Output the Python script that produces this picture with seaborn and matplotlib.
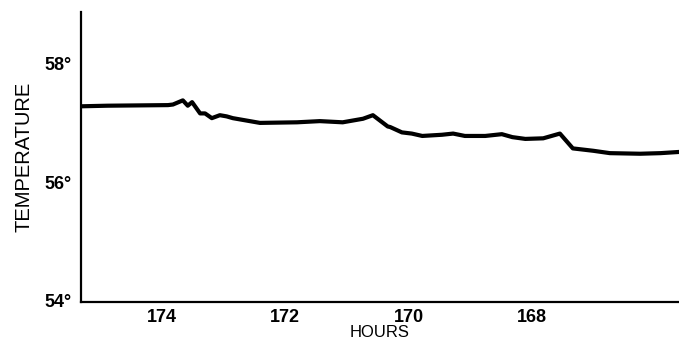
import matplotlib
matplotlib.use("Agg")
import matplotlib.pyplot as plt
import seaborn as sns
import pandas as pd

hours = [175.31, 174.88, 173.90, 173.82, 173.66, 173.58, 173.51, 173.38, 173.30,
         173.19, 173.06, 172.95, 172.85, 172.74, 172.41, 171.81, 171.44, 171.07,
         170.74, 170.58, 170.34, 170.30, 170.11, 169.95, 169.78, 169.46, 169.28,
         169.09, 168.76, 168.49, 168.32, 168.11, 167.82, 167.55, 167.34, 167.01,
         166.74, 166.25, 165.92, 165.62]
temperature = [57.28, 57.29, 57.30, 57.31, 57.38, 57.29, 57.35, 57.16, 57.16,
               57.08, 57.13, 57.11, 57.08, 57.06, 57.00, 57.01, 57.03, 57.01,
               57.07, 57.13, 56.94, 56.93, 56.84, 56.82, 56.78, 56.80, 56.82,
               56.78, 56.78, 56.81, 56.76, 56.73, 56.74, 56.82, 56.57, 56.53,
               56.49, 56.48, 56.49, 56.51]

x_ticks = [174, 172, 170, 168]
y_ticks = [54, 56, 58]
y_labels = ["54°", "56°", "58°"]

df = pd.DataFrame({"hours": hours, "temperature": temperature})

sns.set_style("white")
plt.rcParams["font.family"] = ["Liberation Sans", "DejaVu Sans"]
plt.rcParams["text.color"] = "black"
plt.rcParams["axes.labelcolor"] = "black"
plt.rcParams["xtick.color"] = "black"
plt.rcParams["ytick.color"] = "black"

fig = plt.figure(figsize=(6.79, 3.40), dpi=100)
ax = fig.add_axes([81 / 679, 38 / 340, 1 - 81 / 679, 290 / 340])

sns.lineplot(data=df, x="hours", y="temperature", ax=ax, color="black",
             linewidth=3.0, solid_joinstyle="round", solid_capstyle="round")

ax.set_xlim(175.31, 165.62)
ax.set_ylim(53.98, 58.87)

ax.set_xticks(x_ticks)
ax.set_xticklabels([str(t) for t in x_ticks], fontsize=13, fontweight="bold",
                   color="black")
ax.set_yticks(y_ticks)
ax.set_yticklabels(y_labels, fontsize=13, fontweight="bold", color="black")
ax.tick_params(axis="both", length=0)
ax.tick_params(axis="x", pad=5)
ax.tick_params(axis="y", pad=7)

ax.set_xlabel("HOURS", fontsize=12, labelpad=-1, color="black")
ax.set_ylabel("TEMPERATURE", fontsize=14.5, labelpad=8, color="black")

for side in ["top", "right"]:
    ax.spines[side].set_visible(False)
for side in ["left", "bottom"]:
    ax.spines[side].set_color("black")
    ax.spines[side].set_linewidth(1.6)

fig.savefig("out.png", dpi=100)
